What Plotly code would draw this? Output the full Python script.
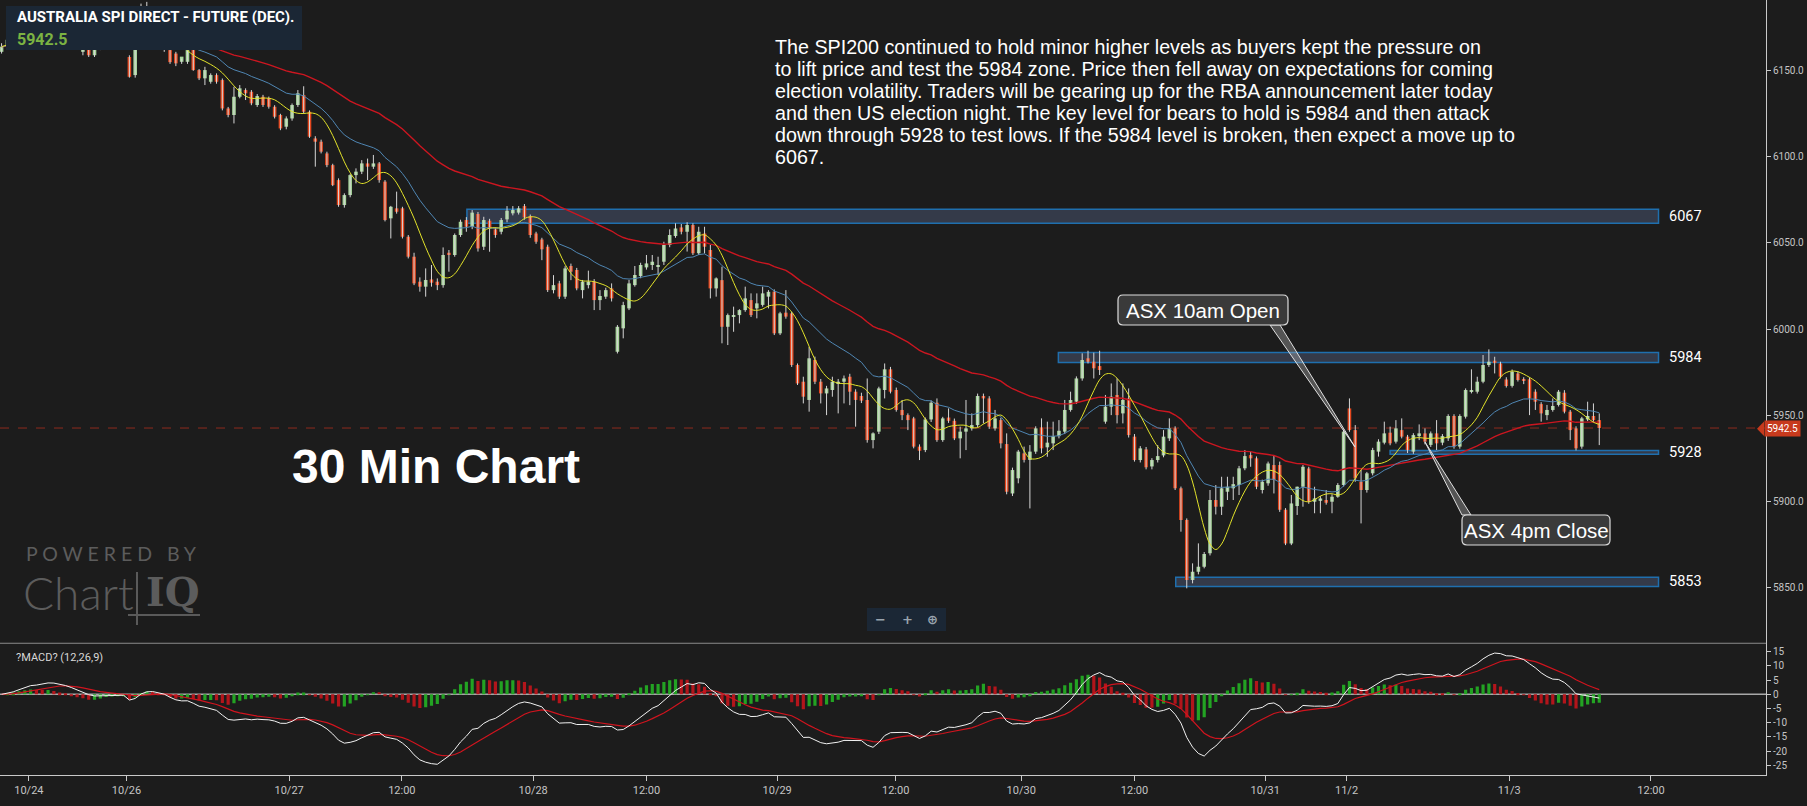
import plotly.graph_objects as go
import pandas as pd

# ---------------- data (30-min candles) ----------------
opens = [
 6161, 6164, 6168, 6172, 6176, 6178, 6180, 6176, 6179, 6181,
 6177, 6174, 6171, 6168, 6161, 6164, 6159, 6163, 6168, 6171,
 6168, 6167, 6158, 6147.5, 6170, 6184, 6178, 6172, 6167, 6162,
 6160, 6155.2, 6155.2, 6162, 6150.4, 6145.6, 6143.6, 6147.5, 6144.6, 6128.1,
 6124.3, 6134.9, 6138.8, 6137.8, 6130.1, 6134.9, 6134, 6129.1, 6124.3, 6117.5,
 6122.3, 6130.1, 6135.9, 6126.2, 6110.7, 6108.8, 6102, 6095.2, 6086.5, 6072,
 6077.8, 6089.4, 6091.4, 6096.2, 6094.3, 6096.2, 6085.6, 6064.3, 6070.1, 6070.1,
 6053.6, 6042, 6027.5, 6024.6, 6028.8, 6027.5, 6025.5, 6044.3, 6043, 6054.6,
 6063.3, 6059.4, 6066.8, 6047.8, 6062.9, 6057.9, 6056.5, 6063.7, 6067.2, 6067.6,
 6071.4, 6065.6, 6055.5, 6052, 6047.8, 6022.6, 6026.5, 6018.8, 6036.6, 6034.3,
 6022.6, 6025.5, 6027.5, 6016.8, 6018.8, 6023.6, 5986.8, 6000.4, 6012, 6025.5,
 6030.8, 6035.8, 6037.2, 6036.2, 6039.1, 6048.8, 6054, 6059, 6056.5, 6060.4,
 6044, 6055.5, 6045.9, 6023.6, 6028.4, 6001.3, 6007.2, 6008.1, 6011, 6016.8,
 6012, 6014, 6018.8, 6021.7, 5997.5, 6009.5, 6009.1, 5979.1, 5969.4, 5958.8,
 5982, 5969.4, 5962.6, 5964.6, 5968.5, 5969.4, 5972.3, 5963.6, 5961.1, 5958.8,
 5935.5, 5940.4, 5964.6, 5976.6, 5964.6, 5953, 5950, 5948.1, 5931.7, 5929.7,
 5947.5, 5957.2, 5935.5, 5948.6, 5946.7, 5936.5, 5940.4, 5942.3, 5944.2, 5961.1,
 5959.7, 5942.3, 5947.1, 5933.2, 5904.5, 5913.3, 5927.8, 5924, 5928.8, 5942.9,
 5931.3, 5933.6, 5937.8, 5940.4, 5953, 5957.8, 5971.3, 5983, 5981, 5978.5,
 5946.2, 5954.9, 5961.7, 5951, 5959.7, 5937.5, 5923.9, 5930.1, 5920.2, 5923.9,
 5926.6, 5936.5, 5942.3, 5907.5, 5889.1, 5854.2, 5859, 5862, 5869.7, 5900.7,
 5896.8, 5905.5, 5907.5, 5909.4, 5919.1, 5926.8, 5924.9, 5906.5, 5910.4, 5921,
 5921, 5895, 5875.5, 5897.2, 5908.4, 5919, 5899.7, 5900.2, 5900.7, 5899.7,
 5902.6, 5909.4, 5953.9, 5941.3, 5911.3, 5906.5, 5916.2, 5928.8, 5934, 5939.8,
 5934.6, 5941.3, 5937.5, 5928.8, 5937.8, 5939.4, 5932.7, 5939.4, 5934, 5936.5,
 5949.5, 5931.7, 5949.1, 5963.6, 5963.6, 5969.4, 5979.1, 5981.6, 5980, 5970.7,
 5967, 5974.2, 5970.4, 5970.8, 5963.6, 5956.4, 5950, 5953, 5955.9, 5963,
 5952, 5942.3, 5931.7, 5947.5, 5949.5, 5947.1,
]
highs = [
 6166, 6170, 6174, 6178, 6180, 6183, 6181, 6181, 6184, 6182,
 6178, 6176, 6172, 6169, 6166, 6165, 6165, 6169, 6173, 6172,
 6170, 6169, 6159, 6172, 6189, 6190, 6180, 6174, 6169, 6163,
 6161, 6157, 6163, 6163.5, 6151, 6152.3, 6148.5, 6148.5, 6145.5, 6129,
 6140.7, 6141.7, 6139.8, 6138.8, 6136.5, 6136, 6135, 6130, 6125, 6123.5,
 6131, 6138.8, 6141, 6127, 6112, 6110, 6103, 6096, 6087.5, 6078.8,
 6090, 6093.3, 6098.1, 6099, 6101.1, 6097, 6086.5, 6071.5, 6079.8, 6071,
 6054.6, 6044.3, 6030, 6035.2, 6037.2, 6029.4, 6047.4, 6045.9, 6055.5, 6063.5,
 6065, 6069.1, 6068, 6065.2, 6064, 6059, 6064.5, 6071.4, 6071.4, 6071.4,
 6072.6, 6066.5, 6056.5, 6053, 6049, 6031.3, 6028, 6036.5, 6038, 6035.5,
 6028.5, 6033.9, 6029, 6022.6, 6024, 6026.5, 6002.3, 6015.8, 6028.5, 6036.6,
 6038.5, 6043, 6043, 6042, 6050.7, 6057.9, 6061.4, 6061, 6062, 6061.4,
 6059.4, 6059.4, 6048.8, 6030, 6036.2, 6009, 6013, 6011.5, 6024.6, 6020.7,
 6020.7, 6024.6, 6022.6, 6023, 6010, 6022.6, 6010, 5980, 5972.3, 5989.7,
 5984, 5971, 5967, 5972.3, 5971, 5973, 5974, 5965, 5963, 5971.3,
 5940, 5966.5, 5980, 5978, 5966, 5958.8, 5951, 5949, 5933, 5948.6,
 5958.5, 5959.7, 5949, 5953.9, 5948, 5943.3, 5958.8, 5951, 5962.5, 5962.5,
 5961, 5953, 5948.5, 5939.4, 5919.5, 5929.8, 5931.7, 5932.6, 5943.5, 5948.1,
 5946.2, 5946.2, 5947.1, 5958.8, 5963.6, 5972.5, 5985.9, 5987.4, 5986.3, 5987.4,
 5961.7, 5968.4, 5971.3, 5968.4, 5965.5, 5939, 5932, 5931.5, 5925, 5932.6,
 5941.3, 5948.1, 5943.5, 5908.5, 5890, 5863.9, 5875.5, 5870.5, 5906.5, 5909.4,
 5914.2, 5914.2, 5914.2, 5920.5, 5929.7, 5928.8, 5926, 5912.5, 5923, 5926.8,
 5923, 5896, 5903.6, 5908.5, 5921, 5920, 5908.4, 5903, 5906.5, 5904,
 5910.5, 5941.5, 5959.7, 5944.2, 5918.1, 5917, 5931, 5936, 5946.2, 5943.3,
 5947.1, 5948.1, 5938.5, 5939.5, 5944.6, 5942.3, 5940.5, 5947.1, 5939, 5950.5,
 5950.5, 5950.5, 5965.5, 5976.6, 5972.3, 5984.9, 5988.2, 5983.9, 5981, 5972,
 5976.5, 5975.5, 5972, 5972, 5965, 5957.5, 5955.9, 5959.7, 5964.6, 5964.5,
 5953, 5943.5, 5949, 5957.8, 5956.8, 5951,
]
lows = [
 6160, 6163, 6166, 6170, 6174, 6176, 6174, 6175, 6177, 6176,
 6172, 6169, 6166, 6163, 6159, 6158, 6158, 6162, 6166, 6166,
 6165, 6165, 6146, 6146, 6169, 6176, 6170, 6165, 6161, 6154,
 6152.7, 6154, 6154, 6150, 6144.6, 6141.7, 6142.5, 6142.5, 6127, 6123,
 6119.4, 6134, 6133, 6130, 6129, 6129, 6128, 6122.3, 6115.5, 6116,
 6121, 6129, 6125, 6111, 6094.3, 6102, 6094, 6083, 6071, 6070.5,
 6076.5, 6084.6, 6090, 6086.5, 6093, 6085, 6062.5, 6052.6, 6067, 6052.6,
 6041, 6025.5, 6021.7, 6018.8, 6024.6, 6022.6, 6024, 6033.3, 6042, 6053.5,
 6056.5, 6058, 6045, 6045.9, 6044.9, 6053, 6055, 6062, 6066, 6066.5,
 6063.5, 6053, 6049.5, 6040, 6021.5, 6020.7, 6017.5, 6017.5, 6028.4, 6022.5,
 6017.8, 6023.6, 6011, 6011, 6017.5, 6016, 5985.8, 5994.6, 6011, 6024.6,
 6029.5, 6034.5, 6034.3, 6031.4, 6037.2, 6047.5, 6053, 6055, 6045, 6043,
 6043, 6043.9, 6017.8, 6018.8, 5991.7, 5990.7, 5998.4, 6003.3, 6010, 6007,
 6006.2, 6013, 6012, 5996.5, 5996.5, 6006, 5978, 5967.5, 5956.8, 5952,
 5968, 5956.8, 5950, 5960.7, 5951, 5956.8, 5955.8, 5943.3, 5957, 5934,
 5930.7, 5939, 5959.7, 5962.6, 5952, 5947.1, 5941.3, 5930.7, 5923.9, 5928.5,
 5946, 5934.5, 5934.5, 5945.5, 5935.5, 5924.9, 5929.7, 5941, 5943, 5945.2,
 5942, 5941, 5930.7, 5904, 5903, 5910.4, 5922.5, 5895.8, 5927.5, 5927.8,
 5925.8, 5929.7, 5936.5, 5939, 5952, 5956.5, 5970, 5980, 5971.3, 5973.3,
 5945, 5950, 5945.2, 5945.2, 5937, 5923, 5922.5, 5918.5, 5918.5, 5922.5,
 5925.5, 5935, 5906.5, 5882.3, 5849.4, 5852.3, 5857.5, 5861, 5868.5, 5892.3,
 5892, 5900.7, 5900.7, 5903.6, 5918, 5920, 5907, 5904.5, 5909, 5904.5,
 5893.8, 5874.5, 5874.5, 5892, 5896.8, 5898.5, 5893, 5893, 5898, 5893,
 5902, 5908.5, 5940.3, 5911.3, 5887.1, 5905, 5915, 5925.9, 5933, 5932.5,
 5933.5, 5936.5, 5928, 5927.5, 5935.5, 5933, 5931.5, 5929.7, 5932.5, 5935,
 5930.5, 5930.5, 5948, 5962.6, 5962.5, 5968.5, 5978, 5974.2, 5971.3, 5966,
 5966, 5969.5, 5968, 5950, 5953, 5946.2, 5947.1, 5952, 5955, 5951,
 5935.5, 5929.5, 5930.5, 5946.5, 5946, 5932.6,
]
closes = [
 6164, 6168, 6172, 6176, 6178, 6180, 6176, 6179, 6181, 6177,
 6174, 6171, 6168, 6165, 6164, 6159, 6163, 6168, 6171, 6168,
 6167, 6168, 6146.5, 6170, 6184, 6178, 6172, 6167, 6163, 6155,
 6154.3, 6158.2, 6162, 6150.4, 6145.6, 6150.4, 6147.5, 6143.6, 6128.1, 6124.3,
 6134.9, 6139.8, 6136.9, 6131.1, 6135.3, 6130.1, 6129.1, 6123.3, 6116.5, 6122.3,
 6130.1, 6136.9, 6126.2, 6111.7, 6108.8, 6103, 6095.2, 6083.6, 6072, 6077.8,
 6089.4, 6091.4, 6096.2, 6094.3, 6096.2, 6086.5, 6063.3, 6071, 6068.1, 6053.6,
 6042, 6026.5, 6024.6, 6028.5, 6026.9, 6025.5, 6043, 6043, 6054.6, 6062.3,
 6059.4, 6067.6, 6046.8, 6063.3, 6058.5, 6054.6, 6063.3, 6068.7, 6069.1, 6070.1,
 6064.8, 6054.6, 6050.7, 6046.3, 6022.6, 6025.5, 6018.8, 6035.2, 6033.3, 6023.6,
 6027.5, 6027.5, 6016.8, 6019.2, 6022.6, 6017.8, 6001.3, 6013.9, 6026.5, 6031.4,
 6037.2, 6038.1, 6039.1, 6036.5, 6048.8, 6054.6, 6058.4, 6056.5, 6060.4, 6044,
 6056.5, 6047.8, 6023.6, 6029.4, 6001.3, 6008.1, 6008.1, 6011, 6017.8, 6008.1,
 6014.9, 6020.7, 6021.6, 5997.5, 6009.1, 6007.2, 5979.1, 5968.4, 5960.7, 5983,
 5969.4, 5962.6, 5965.5, 5969.4, 5969.4, 5971.3, 5963.6, 5958.8, 5958.4, 5935.5,
 5939.4, 5965.5, 5976.6, 5963.6, 5953, 5950, 5947.1, 5931.7, 5929.3, 5947.5,
 5957.2, 5935.5, 5948.1, 5946.7, 5936.5, 5940.4, 5942.3, 5944.2, 5961.1, 5959.7,
 5943.3, 5948.1, 5933.6, 5905.5, 5918.1, 5928.8, 5924, 5928.8, 5942.3, 5930.7,
 5934, 5937.8, 5940.9, 5953, 5958.8, 5971.3, 5982, 5981, 5977.2, 5976.2,
 5954.9, 5960.7, 5950, 5958.8, 5938.4, 5923.9, 5930.7, 5919.7, 5923.9, 5926.2,
 5937.5, 5942.3, 5907.5, 5889.1, 5854.2, 5859, 5862, 5869.3, 5900.7, 5896.8,
 5907.5, 5908.4, 5909.9, 5919.1, 5926.2, 5924.9, 5908.4, 5911.3, 5921.9, 5912.3,
 5895, 5875.5, 5898.7, 5908.4, 5920, 5899.7, 5901.6, 5901.6, 5899.1, 5902.6,
 5909.4, 5940.4, 5941.3, 5913.3, 5906.5, 5916.2, 5929.7, 5934.6, 5939.4, 5933.6,
 5942.3, 5937.5, 5929.7, 5938.4, 5939.4, 5934.6, 5939.4, 5933.6, 5937.8, 5949.5,
 5931.7, 5949.5, 5964.6, 5964.2, 5969.4, 5979.1, 5981, 5980.6, 5972.3, 5966.9,
 5975.2, 5970.4, 5970, 5959.7, 5957.8, 5951, 5953, 5955.3, 5963.6, 5952,
 5941.3, 5930.7, 5948.1, 5949.5, 5947.1, 5942.5,
]

tick_pos = [4.7, 21.5, 49.5, 68.9, 91.5, 111.0, 133.5, 153.9, 175.5, 195.0, 217.5, 231.5, 259.5, 283.9]
tick_labels = ["10/24", "10/26", "10/27", "12:00", "10/28", "12:00", "10/29", "12:00",
               "10/30", "12:00", "10/31", "11/2", "11/3", "12:00"]

level_names = ["6067", "5984", "5928", "5853"]
level_tops = [6069.5, 5986.3, 5929.4, 5855.8]
level_bottoms = [6061.4, 5980.5, 5927.3, 5850.5]
level_starts = [80.1, 181.9, 239.0, 202.1]
level_end = 285.2

commentary = [
    "The SPI200 continued to hold minor higher levels as buyers kept the pressure on",
    "to lift price and test the 5984 zone. Price then fell away on expectations for coming",
    "election volatility. Traders will be gearing up for the RBA announcement later today",
    "and then US election night. The key level for bears to hold is 5984 and then attack",
    "down through 5928 to test lows. If the 5984 level is broken, then expect a move up to",
    "6067.",
]
title_text = "AUSTRALIA SPI DIRECT - FUTURE (DEC)."
last_price = 5942.5
price_ticks = [5850, 5900, 5950, 6000, 6050, 6100, 6150]
macd_ticks = [-25, -20, -15, -10, -5, 0, 5, 10, 15]

n = len(closes)
assert len(opens) == n and len(highs) == n and len(lows) == n
idx = list(range(n))

# ---------------- indicators ----------------
cs = pd.Series(closes)
ma_fast = cs.rolling(5, min_periods=1).mean().rolling(4, min_periods=1).mean()
ema20 = cs.ewm(span=20, adjust=False).mean()
ema50 = cs.ewm(span=50, adjust=False).mean()
macd = cs.ewm(span=12, adjust=False).mean() - cs.ewm(span=26, adjust=False).mean()
signal = macd.ewm(span=9, adjust=False).mean()
hist = macd - signal
hist_prev = hist.shift(1).fillna(0)
hist_colors = ["#23a323" if h >= p else "#b3151b" for h, p in zip(hist, hist_prev)]

UP = "#a6d49a"
DN = "#e5471e"
BG = "#1c1c1c"

wx, wy = [], []
for i in idx:
    wx += [i, i, None]
    wy += [lows[i], highs[i], None]
body_base = [min(o, c) for o, c in zip(opens, closes)]
body_h = [max(abs(c - o), 0.7) for o, c in zip(opens, closes)]
body_col = [UP if c >= o else DN for o, c in zip(opens, closes)]

fig = go.Figure()
fig.add_trace(go.Scatter(x=wx, y=wy, mode="lines", line=dict(color="#d6d6d6", width=1),
                         hoverinfo="skip", yaxis="y"))
fig.add_trace(go.Bar(x=idx, base=body_base, y=body_h, width=0.62, marker=dict(color=body_col, line=dict(width=0)),
                     hoverinfo="skip", yaxis="y"))
fig.add_trace(go.Scatter(x=idx, y=ema50, mode="lines", line=dict(color="#cc1620", width=1.4), yaxis="y", hoverinfo="skip"))
fig.add_trace(go.Scatter(x=idx, y=ema20, mode="lines", line=dict(color="#4f86b3", width=1), yaxis="y", hoverinfo="skip"))
fig.add_trace(go.Scatter(x=idx, y=ma_fast, mode="lines", line=dict(color="#e3e32a", width=1, shape="spline", smoothing=1.0),
                         yaxis="y", hoverinfo="skip"))
# MACD pane
fig.add_trace(go.Bar(x=idx, y=hist, width=0.55, marker=dict(color=hist_colors, line=dict(width=0)),
                     yaxis="y2", hoverinfo="skip"))
fig.add_trace(go.Scatter(x=idx, y=signal, mode="lines", line=dict(color="#d0141e", width=1.2), yaxis="y2", hoverinfo="skip"))
fig.add_trace(go.Scatter(x=idx, y=macd, mode="lines", line=dict(color="#f2f2f2", width=1), yaxis="y2", hoverinfo="skip"))

W_PLOT = 1766.0
H_PLOT = 775.0
def pxp(x):
    return x / W_PLOT
def pyp(y):
    return (H_PLOT - y) / H_PLOT

shapes = []
for top, bot, x0 in zip(level_tops, level_bottoms, level_starts):
    shapes.append(dict(type="rect", xref="x", yref="y", x0=x0, x1=level_end, y0=bot, y1=top,
                       fillcolor="rgba(72,84,112,0.55)", line=dict(color="#1f6fae", width=1.5), layer="below"))
shapes.append(dict(type="line", xref="paper", yref="y", x0=0, x1=1, y0=last_price, y1=last_price,
                   line=dict(color="#8e2b1e", width=1, dash="dash"), layer="below"))
shapes.append(dict(type="line", xref="paper", yref="paper", x0=0, x1=1, y0=0.17, y1=0.17,
                   line=dict(color="#8a8a8a", width=1)))
shapes.append(dict(type="line", xref="paper", yref="y2", x0=0, x1=1, y0=0, y1=0,
                   line=dict(color="#a8a8a8", width=1.5), layer="below"))

def rrect(x0, y0, x1, y1, r):
    return (f"M {pxp(x0+r)},{pyp(y0)} L {pxp(x1-r)},{pyp(y0)} Q {pxp(x1)},{pyp(y0)} {pxp(x1)},{pyp(y0+r)} "
            f"L {pxp(x1)},{pyp(y1-r)} Q {pxp(x1)},{pyp(y1)} {pxp(x1-r)},{pyp(y1)} "
            f"L {pxp(x0+r)},{pyp(y1)} Q {pxp(x0)},{pyp(y1)} {pxp(x0)},{pyp(y1-r)} "
            f"L {pxp(x0)},{pyp(y0+r)} Q {pxp(x0)},{pyp(y0)} {pxp(x0+r)},{pyp(y0)} Z")

def tri(a, b, c):
    return (f"M {pxp(a[0])},{pyp(a[1])} L {pxp(b[0])},{pyp(b[1])} L {pxp(c[0])},{pyp(c[1])} Z")

shapes.append(dict(type="path", xref="paper", yref="paper", path=tri((1270, 325), (1280, 325), (1355, 447)),
                   fillcolor="rgba(190,190,190,0.35)", line=dict(color="#e0e0e0", width=1)))
shapes.append(dict(type="path", xref="paper", yref="paper", path=tri((1462, 515), (1471, 515), (1425, 442)),
                   fillcolor="rgba(190,190,190,0.35)", line=dict(color="#e0e0e0", width=1)))
shapes.append(dict(type="path", xref="paper", yref="paper", path=rrect(1118, 295, 1288, 325, 5),
                   fillcolor="#3a3a3a", line=dict(color="#dcdcdc", width=1.2)))
shapes.append(dict(type="path", xref="paper", yref="paper", path=rrect(1462, 515, 1610, 545, 5),
                   fillcolor="#3a3a3a", line=dict(color="#dcdcdc", width=1.2)))
shapes.append(dict(type="rect", xref="paper", yref="paper", x0=pxp(6), x1=pxp(302), y0=pyp(50), y1=pyp(6),
                   fillcolor="#1b2735", line=dict(width=0)))
shapes.append(dict(type="rect", xref="paper", yref="paper", x0=pxp(867), x1=pxp(946), y0=pyp(631), y1=pyp(608),
                   fillcolor="#1b2735", line=dict(width=0)))
shapes.append(dict(type="line", xref="paper", yref="paper", x0=pxp(137), x1=pxp(137), y0=pyp(625), y1=pyp(572),
                   line=dict(color="#5a5a5a", width=2)))
shapes.append(dict(type="line", xref="paper", yref="paper", x0=pxp(128), x1=pxp(200), y0=pyp(615), y1=pyp(615),
                   line=dict(color="#5a5a5a", width=2)))
shapes.append(dict(type="path", xref="paper", yref="paper",
                   path=tri((1757, 428.7), (1764, 421.5), (1764, 436)), fillcolor="#c73a1d", line=dict(width=0)))

ann = []
TXT = "Liberation Sans, Arial, sans-serif"
for k, line in enumerate(commentary):
    ann.append(dict(xref="paper", yref="paper", x=pxp(773), y=pyp(46.7 + 22.0 * k), xanchor="left", yanchor="middle",
                    text=line, showarrow=False, font=dict(family=TXT, size=19.7, color="#ffffff")))
ann.append(dict(xref="paper", yref="paper", x=pxp(435.6), y=pyp(466), xanchor="center", yanchor="middle",
                text="<b>30 Min Chart</b>", showarrow=False, font=dict(family=TXT, size=48, color="#ffffff")))
for name, top, bot in zip(level_names, level_tops, level_bottoms):
    ann.append(dict(xref="x", yref="y", x=286.6, y=(top + bot) / 2, xanchor="left", yanchor="middle",
                    text=name, showarrow=False, font=dict(family="Roboto", size=14.5, color="#ffffff")))
ann.append(dict(xref="paper", yref="paper", x=pxp(1203), y=pyp(310.5), xanchor="center", yanchor="middle",
                text="ASX 10am Open", showarrow=False, font=dict(family=TXT, size=20.5, color="#ffffff")))
ann.append(dict(xref="paper", yref="paper", x=pxp(1536), y=pyp(530.5), xanchor="center", yanchor="middle",
                text="ASX 4pm Close", showarrow=False, font=dict(family=TXT, size=20.5, color="#ffffff")))
ann.append(dict(xref="paper", yref="paper", x=pxp(15), y=pyp(17), xanchor="left", yanchor="middle",
                text="<b>" + title_text + "</b>", showarrow=False, font=dict(family="Roboto", size=15, color="#ffffff")))
ann.append(dict(xref="paper", yref="paper", x=pxp(15), y=pyp(39.5), xanchor="left", yanchor="middle",
                text="<b>%.1f</b>" % last_price, showarrow=False, font=dict(family="Roboto", size=16, color="#7cb342")))
ann.append(dict(xref="paper", yref="y", x=1, y=last_price, xanchor="left", yanchor="middle", xshift=-2,
                text="%.1f" % last_price, showarrow=False, bgcolor="#c73a1d", borderpad=2,
                font=dict(family="Roboto", size=10, color="#ffffff")))
ann.append(dict(xref="paper", yref="paper", x=pxp(14), y=pyp(657), xanchor="left", yanchor="middle",
                text="?MACD? (12,26,9)", showarrow=False, font=dict(family="Roboto", size=11, color="#d8d8d8")))
ann.append(dict(xref="paper", yref="paper", x=pxp(24), y=pyp(553), xanchor="left", yanchor="middle",
                text="P O W E R E D   B Y", showarrow=False, font=dict(family="Lato", size=19.5, color="#5c5c5c")))
ann.append(dict(xref="paper", yref="paper", x=pxp(21), y=pyp(592), xanchor="left", yanchor="middle",
                text="Chart", showarrow=False, font=dict(family="Lato", size=46, color="#5c5c5c", weight=300)))
ann.append(dict(xref="paper", yref="paper", x=pxp(144), y=pyp(591), xanchor="left", yanchor="middle",
                text="<b>IQ</b>", showarrow=False, font=dict(family="DejaVu Serif", size=40, color="#5c5c5c")))
for gx, g in [(880, "\u2212"), (907, "+"), (932, "\u2295")]:
    ann.append(dict(xref="paper", yref="paper", x=pxp(gx), y=pyp(619.5), xanchor="center", yanchor="middle",
                    text="<b>" + g + "</b>", showarrow=False, font=dict(family="DejaVu Sans", size=13, color="#9aa4ae")))

AX = "#c9c9c9"
fig.update_layout(
    width=1807, height=806,
    margin=dict(l=0, r=41, t=0, b=31),
    paper_bgcolor=BG, plot_bgcolor=BG,
    showlegend=False, barmode="overlay",
    xaxis=dict(range=[-0.27, 303.7], anchor="y2", tickmode="array", tickvals=tick_pos, ticktext=tick_labels,
               ticks="outside", ticklen=5, tickcolor=AX, showline=True, linecolor=AX, linewidth=1,
               showgrid=False, zeroline=False, tickfont=dict(family="Roboto", size=11, color="#c4c4c4")),
    yaxis=dict(domain=[0.17, 1], range=[5817.5, 6191.1], side="right", anchor="x", tickmode="array",
               tickvals=price_ticks, ticktext=["%.1f" % v for v in price_ticks], ticks="outside", ticklen=4,
               tickcolor=AX, showline=True, linecolor=AX, linewidth=1, showgrid=False, zeroline=False,
               tickfont=dict(family="Roboto", size=10, color="#c4c4c4")),
    yaxis2=dict(domain=[0, 0.17], range=[-28.4, 18], side="right", anchor="x", tickmode="array",
                tickvals=macd_ticks, ticktext=[str(v) for v in macd_ticks], ticks="outside", ticklen=4,
                tickcolor=AX, showline=True, linecolor=AX, linewidth=1, showgrid=False, zeroline=False,
                tickfont=dict(family="Roboto", size=10, color="#c4c4c4")),
    shapes=shapes, annotations=ann,
)

fig.write_html("out.html", config={"displayModeBar": False},
               post_script="document.body.style.margin='0px';document.body.style.overflow='hidden';")
